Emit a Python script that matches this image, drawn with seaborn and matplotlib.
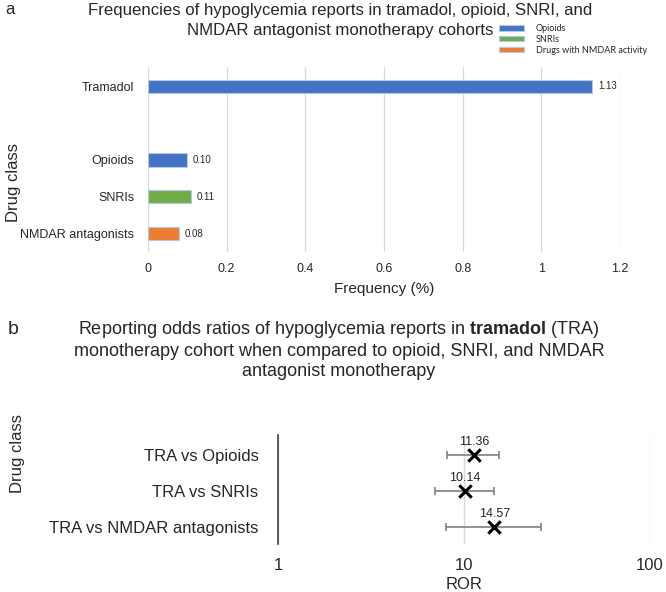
import matplotlib
matplotlib.use('Agg')
import matplotlib.pyplot as plt
import seaborn as sns
import pandas as pd
from matplotlib.ticker import FixedLocator, FixedFormatter

# Panel a: frequencies of hypoglycemia reports (%)
freq_drugs = ["Tramadol", "Opioids", "SNRIs", "NMDAR antagonists"]
freq_values = [1.13, 0.10, 0.11, 0.08]
freq_group = ["Opioids", "Opioids", "SNRIs", "Drugs with NMDAR activity"]
freq_order = ["Tramadol", "", "Opioids", "SNRIs", "NMDAR antagonists"]
group_order = ["Opioids", "SNRIs", "Drugs with NMDAR activity"]
group_colors = ["#4472C4", "#70AD47", "#ED7D31"]
freq_ticks = [0, 0.2, 0.4, 0.6, 0.8, 1.0, 1.2]
freq_ticklabels = ["0", "0.2", "0.4", "0.6", "0.8", "1", "1.2"]

# Panel b: reporting odds ratios with 95% CI
ror_labels = ["TRA vs Opioids", "TRA vs SNRIs", "TRA vs NMDAR antagonists"]
ror_values = [11.36, 10.14, 14.57]
ror_low = [8.1, 7.0, 8.0]
ror_high = [15.4, 14.5, 26.0]
ror_ticks = [1, 10, 100]

sns.set_theme(style="white")
plt.rcParams['font.family'] = ["Liberation Sans", "DejaVu Sans"]
plt.rcParams['mathtext.fontset'] = 'custom'
plt.rcParams['mathtext.rm'] = 'Liberation Sans'
plt.rcParams['mathtext.bf'] = 'Liberation Sans:bold'

fig = plt.figure(figsize=(6.66, 5.92), dpi=100)
W, H = 666, 592
TXT = "#262626"


def axes_px(left, top, right, bottom):
    return fig.add_axes([left / W, 1 - bottom / H, (right - left) / W, (bottom - top) / H])


def title_lines(lines, x, ys, size):
    # one fig.text per line so each line keeps its own box
    for line, y in zip(lines, ys):
        fig.text(x / W, 1 - y / H, line, fontsize=size, ha="center", va="center", color=TXT)


# ---------- panel a ----------
ax1 = axes_px(148, 67, 620, 252)
df_a = pd.DataFrame({"drug": freq_drugs, "freq": freq_values, "group": freq_group})
sns.barplot(data=df_a, x="freq", y="drug", hue="group", order=freq_order,
            hue_order=group_order, palette=group_colors, dodge=False, width=0.36,
            saturation=1, edgecolor="#b4c7e7", linewidth=0.8, ax=ax1, legend=True)
for cont in ax1.containers:
    ax1.bar_label(cont, fmt="%.2f", padding=4, fontsize=7, color=TXT)
ax1.set_xlim(0, 1.2)
ax1.set_ylim(4.5, -0.52)
ax1.xaxis.set_major_locator(FixedLocator(freq_ticks))
ax1.xaxis.set_major_formatter(FixedFormatter(freq_ticklabels))
ax1.grid(axis="x", color="#d9d9d9", linewidth=0.9)
ax1.set_axisbelow(True)
for s in ax1.spines.values():
    s.set_visible(False)
ax1.tick_params(axis="both", length=0, labelsize=9, colors=TXT, pad=10)
ax1.tick_params(axis="x", pad=8)
ax1.set_xlabel("Frequency (%)", fontsize=11, color=TXT, labelpad=5)
ax1.set_ylabel("Drug class", fontsize=12, color=TXT)
ax1.yaxis.set_label_coords(-(148 - 21) / 472, 1 - (183 - 67) / 185)
leg = ax1.get_legend()
leg.remove()
handles = leg.legend_handles
fig.legend(handles, group_order, loc="upper left", bbox_to_anchor=(499 / W, 1 - 24 / H),
           frameon=False, handlelength=2.8, handleheight=0.55,
           handletextpad=1.3, labelspacing=0.2, borderpad=0, borderaxespad=0,
           prop={"family": ["Lato", "DejaVu Sans"], "size": 6.5})

fig.text(5 / W, 1 - 10 / H, "a", fontsize=12, va="center", ha="left", color=TXT)
title_lines(["Frequencies of hypoglycemia reports in tramadol, opioid, SNRI, and",
             "NMDAR antagonist monotherapy cohorts"], 340, [11, 31], 12.1)

# ---------- panel b ----------
ax2 = axes_px(278, 435, 650, 544)
df_b = pd.DataFrame({"comparison": ror_labels, "ror": ror_values,
                     "low": ror_low, "high": ror_high})
ax2.errorbar(df_b["ror"], df_b["comparison"],
             xerr=[df_b["ror"] - df_b["low"], df_b["high"] - df_b["ror"]],
             fmt="none", ecolor="#808080", elinewidth=1.2, capsize=3, capthick=1.2)
sns.scatterplot(data=df_b, x="ror", y="comparison", marker="x", s=80,
                color="black", linewidth=2.2, ax=ax2, zorder=3)
for xv, yv in zip(df_b["ror"], range(len(ror_labels))):
    ax2.annotate(f"{xv:.2f}", (xv, yv), xytext=(0, 9.5), textcoords="offset points",
                 ha="center", va="center", fontsize=9, color=TXT)
ax2.set_xscale("log")
ax2.set_xlim(1, 100)
ax2.set_ylim(2.47, -0.56)
ax2.xaxis.set_major_locator(FixedLocator(ror_ticks))
ax2.xaxis.set_major_formatter(FixedFormatter([str(t) for t in ror_ticks]))
ax2.xaxis.set_minor_locator(FixedLocator([]))
ax2.grid(axis="x", color="#d9d9d9", linewidth=1)
ax2.set_axisbelow(True)
for k, s in ax2.spines.items():
    s.set_visible(k == "left")
ax2.spines["left"].set_color("#404040")
ax2.spines["left"].set_linewidth(1.2)
ax2.tick_params(axis="both", length=0, labelsize=12, colors=TXT)
ax2.tick_params(axis="y", pad=14)
ax2.tick_params(axis="x", pad=10)
ax2.set_xlabel("ROR", fontsize=12, color=TXT, labelpad=3)
ax2.set_ylabel("Drug class", fontsize=12, color=TXT)
ax2.yaxis.set_label_coords(-(278 - 25) / 372, 1 - (453 - 435) / 109)

fig.text(8 / W, 1 - 329 / H, "b", fontsize=14, va="center", ha="left", color=TXT)
title_lines(["Reporting odds ratios of hypoglycemia reports in $\\mathbf{tramadol}$ (TRA)",
             "monotherapy cohort when compared to opioid, SNRI, and NMDAR",
             "antagonist monotherapy"], 339, [330, 351, 372], 13)

fig.savefig("out.png", dpi=100, facecolor="white")
